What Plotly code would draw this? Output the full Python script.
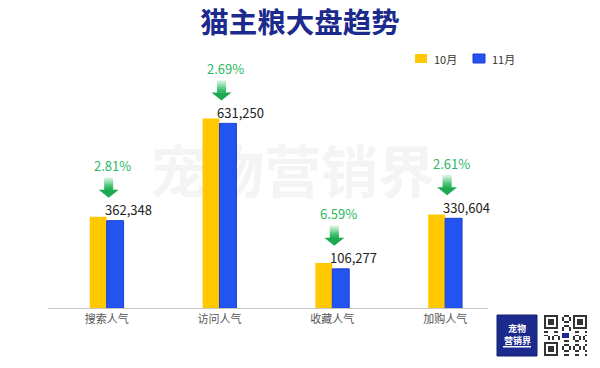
import plotly.graph_objects as go

# ---------------- data ----------------
categories = ["搜索人气", "访问人气", "收藏人气", "加购人气"]
series_names = ["10月", "11月"]
oct_values = [313000, 650000, 155000, 321000]     # bar heights
nov_values = [300000, 633000, 135000, 308000]
value_labels = ["362,348", "631,250", "106,277", "330,604"]
change_labels = ["2.81%", "2.69%", "6.59%", "2.61%"]

# ---------------- styles ----------------
W, H = 600, 368
YELLOW = "#FFC800"
BLUE = "#2354F0"
BLUE_EDGE = "#1A3FD2"
NAVY = "#1B2A8C"
GREEN = "#2BB864"
CJK = "Noto Sans CJK SC, sans-serif"


def px(x):
    return x / W


def py(y):
    return 1 - y / H


fig = go.Figure()
fig.add_trace(go.Bar(x=categories, y=oct_values, name=series_names[0],
                     marker=dict(color=YELLOW, line=dict(width=0)), showlegend=False,
                     hoverinfo="skip"))
fig.add_trace(go.Bar(x=categories, y=nov_values, name=series_names[1],
                     marker=dict(color=BLUE, line=dict(color=BLUE_EDGE, width=1)), showlegend=False,
                     hoverinfo="skip"))

shapes = []
annotations = []

# watermark (below bars)
shapes.append(dict(type="rect", xref="paper", yref="paper", layer="below",
                   x0=px(140), x1=px(445), y0=py(205), y1=py(148),
                   line=dict(width=0), fillcolor="rgba(0,0,0,0)",
                   label=dict(text="宠物营销界", font=dict(size=57, color="#F4F4F4", family=CJK, weight="bold"),
                              textposition="middle center")))

# annotations above each group
shaft_cols = ["#CDEFD8", "#A9E4BD", "#84D8A2", "#5FCB86", "#3ABF6B", "#27B45C"]
for i, cat in enumerate(categories):
    top = nov_values[i]
    dx = 2
    y_top, y_mid = 43, 31
    band = (y_top - y_mid) / len(shaft_cols)
    for k, col in enumerate(shaft_cols):
        ya = y_top - k * band
        yb = ya - band - 0.3
        shapes.append(dict(type="rect", xref="x", yref="y", xsizemode="pixel", ysizemode="pixel",
                           xanchor=i, yanchor=top, x0=dx - 4.5, x1=dx + 4.5, y0=yb, y1=ya,
                           line=dict(width=0), fillcolor=col, layer="above"))
    shapes.append(dict(type="path", xref="x", yref="y", xsizemode="pixel", ysizemode="pixel",
                       xanchor=i, yanchor=top,
                       path=f"M{dx-10},{y_mid} L{dx+10},{y_mid} L{dx},23 Z",
                       line=dict(width=0), fillcolor="#1FA852", layer="above"))
    annotations.append(dict(x=i, y=top, xref="x", yref="y", text=change_labels[i], showarrow=False,
                            xanchor="center", yanchor="middle", xshift=6, yshift=55,
                            font=dict(size=13, color=GREEN, family=CJK)))
    annotations.append(dict(x=i, y=top, xref="x", yref="y", text=value_labels[i], showarrow=False,
                            xanchor="left", yanchor="middle", xshift=-4, yshift=11,
                            font=dict(size=13, color="#222222", family=CJK)))

# custom legend
leg = [(415, YELLOW, None, series_names[0]), (473, BLUE, BLUE_EDGE, series_names[1])]
for x0, col, edge, name in leg:
    shapes.append(dict(type="rect", xref="paper", yref="paper", x0=px(x0), x1=px(x0 + 12),
                       y0=py(63), y1=py(54), fillcolor=col,
                       line=dict(width=1 if edge else 0, color=edge or col)))
    annotations.append(dict(x=px(x0 + 17), y=py(58.5), xref="paper", yref="paper", text=name,
                            showarrow=False, xanchor="left", yanchor="middle",
                            font=dict(size=11, color="#333333", family=CJK)))

# brand logo box
shapes.append(dict(type="rect", xref="paper", yref="paper", x0=px(497), x1=px(537), y0=py(356), y1=py(315),
                   fillcolor=NAVY, line=dict(width=1, color="#13206E")))
shapes.append(dict(type="rect", xref="paper", yref="paper", x0=px(503), x1=px(531), y0=py(347.5), y1=py(346),
                   fillcolor="white", line=dict(width=0)))
annotations.append(dict(x=px(517), y=py(328.5), xref="paper", yref="paper", text="<b>宠物</b>", showarrow=False,
                        font=dict(size=9, color="white", family=CJK), xanchor="center", yanchor="middle"))
annotations.append(dict(x=px(517), y=py(340), xref="paper", yref="paper", text="<b>营销界</b>", showarrow=False,
                        font=dict(size=9, color="white", family=CJK), xanchor="center", yanchor="middle"))

# QR-code style decoration
N = 21
grid = [[0] * N for _ in range(N)]
for r in range(N):
    for c in range(N):
        grid[r][c] = 1 if ((r * 7 + c * 11 + r * c) % 5) < 2 else 0


def finder(r0, c0):
    for r in range(7):
        for c in range(7):
            edge = r in (0, 6) or c in (0, 6)
            core = 2 <= r <= 4 and 2 <= c <= 4
            grid[r0 + r][c0 + c] = 1 if (edge or core) else 0
    for k in range(8):
        for (rr, cc) in [(r0 + 7, c0 + k), (r0 + k, c0 + 7), (r0 - 1, c0 + k), (r0 + k, c0 - 1)]:
            if 0 <= rr < N and 0 <= cc < N and not (r0 <= rr < r0 + 7 and c0 <= cc < c0 + 7):
                grid[rr][cc] = 0


finder(0, 0)
finder(0, N - 7)
finder(N - 7, 0)
for r in range(8, 13):
    for c in range(8, 13):
        grid[r][c] = 0 if r in (8, 12) or c in (8, 12) else 2
fig.add_trace(go.Heatmap(z=grid[::-1], xaxis="x2", yaxis="y2", showscale=False, hoverinfo="skip",
                         zmin=0, zmax=2,
                         colorscale=[[0, "white"], [0.33, "white"], [0.34, "#333333"], [0.66, "#333333"],
                                     [0.67, NAVY], [1, NAVY]]))

fig.update_layout(
    width=W, height=H,
    margin=dict(l=0, r=0, t=0, b=0),
    paper_bgcolor="white", plot_bgcolor="white",
    barmode="group", bargap=0.70, bargroupgap=0,
    title=dict(text="猫主粮大盘趋势", x=0.5, xanchor="center", y=py(23.5), yanchor="middle",
               font=dict(size=28.5, color=NAVY, family=CJK, weight="bold")),
    xaxis=dict(domain=[px(48), px(488)], type="category", range=[-0.52, 3.38],
               showline=True, linecolor="#C8C8C8", linewidth=1, ticks="", showgrid=False,
               tickfont=dict(size=11, color="#555555", family=CJK), fixedrange=True),
    yaxis=dict(domain=[py(308.3), py(60)], range=[0, 850000], visible=False, showgrid=False,
               fixedrange=True),
    xaxis2=dict(domain=[px(544), px(587)], visible=False, anchor="y2", fixedrange=True),
    yaxis2=dict(domain=[py(356), py(315)], visible=False, anchor="x2", fixedrange=True),
    shapes=shapes, annotations=annotations, showlegend=False,
)

fig.write_html("out.html", config={"displayModeBar": False},
               post_script="document.body.style.margin='0px';document.body.style.overflow='hidden';")
